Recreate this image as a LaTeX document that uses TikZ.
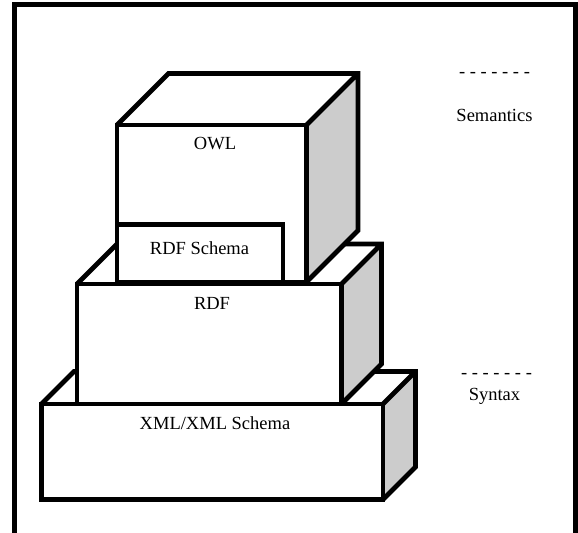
\documentclass[tikz,border=0pt]{standalone}
\usepackage{fontspec}
\setmainfont{Liberation Serif}
\usepackage{tikz}
\definecolor{sidegray}{RGB}{204,204,204}
\tikzset{
	edge/.style={draw, line width=2.4pt, miter limit=2},
	face/.style={edge, fill=white},
	lbl/.style={anchor=base, inner sep=0pt, font=\fontsize{9.25}{11}\selectfont}
}

\begin{document}
\begin{tikzpicture}[x=0.5pt,y=-0.5pt]
	\useasboundingbox (0,0) rectangle (578,533);
	\draw [line width=2.5pt] (14.8,545) -- (14.8,4.8) -- (575,4.8) -- (575,545);
	% XML/XML Schema layer
	\fill [white] (41.5,404) -- (74,371.5) -- (415.5,371.5) -- (383,404) -- cycle;
	\fill [sidegray] (383,404) -- (415.5,371.5) -- (415.5,467) -- (383,499.5) -- cycle;
	\draw [face] (41.5,404) rectangle (383,499.5);
	\draw [edge] (41.5,404) -- (74,371.5) -- (415.5,371.5) -- (415.5,467) -- (383,499.5)
		(383,404) -- (415.5,371.5);
	% RDF layer
	\fill [white] (77,284) -- (117,244) -- (381.5,244) -- (341.5,284) -- cycle;
	\fill [sidegray] (341.5,284) -- (381.5,244) -- (381.5,364) -- (341.5,404) -- cycle;
	\draw [face] (77,284) rectangle (341.5,404);
	\draw [edge] (77,284) -- (117,244) -- (381.5,244) -- (381.5,364) -- (341.5,404)
		(341.5,284) -- (381.5,244);
	% OWL layer with RDF Schema in front
	\fill [white] (117,125) -- (168.5,73.5) -- (358,73.5) -- (306.5,125) -- cycle;
	\fill [sidegray] (306.5,125) -- (358,73.5) -- (358,230.5) -- (306.5,282) -- cycle;
	\draw [face] (117,125) rectangle (306.5,282);
	\draw [edge] (117,125) -- (168.5,73.5) -- (358,73.5) -- (358,230.5) -- (306.5,282)
		(306.5,125) -- (358,73.5);
	\draw [face] (117,224.5) rectangle (283,282);
	\node [lbl] (owl) at (215,149.3) {OWL};
	\node [lbl] (rdfs) at (199.5,255) {RDF Schema};
	\node [lbl] (rdf) at (212,309.3) {RDF};
	\node [lbl] (xml) at (215,429.3) {XML/XML Schema};
	\node [lbl] (semdash) at (494.5,77.2) {- - - - - - -};
	\node [lbl] (semantics) at (494.5,121.7) {Semantics};
	\node [lbl] (syndash) at (496.5,378.5) {- - - - - - -};
	\node [lbl] (syntax) at (494.5,401) {Syntax};
\end{tikzpicture}
\end{document}
